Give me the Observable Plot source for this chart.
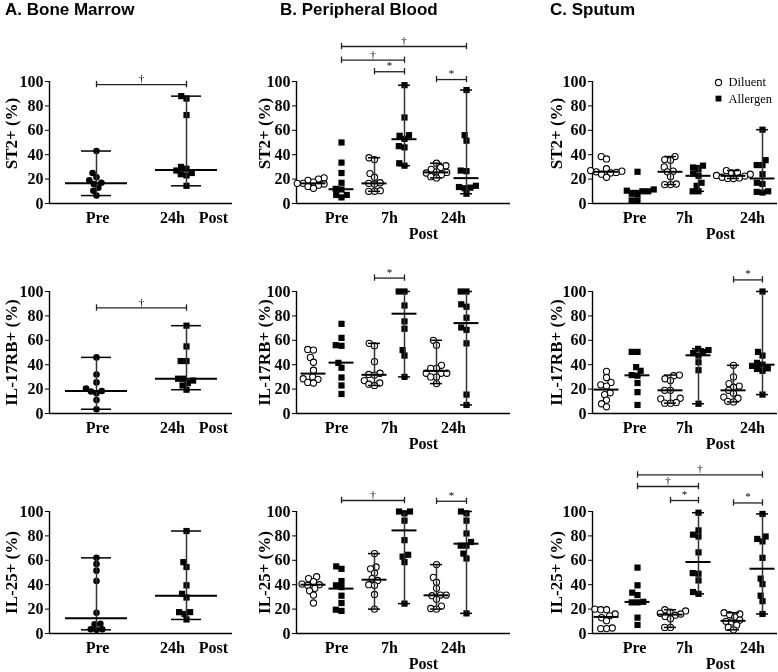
<!DOCTYPE html>
<html><head><meta charset="utf-8">
<script src="https://cdn.jsdelivr.net/npm/d3@7"></script>
<script src="https://cdn.jsdelivr.net/npm/@observablehq/plot@0.6"></script>
<style>
html,body{margin:0;padding:0;background:#fff;overflow:hidden;}
#root{position:relative;width:778px;height:672px;background:#fff;filter:grayscale(1);}
.title{position:absolute;top:0;font:bold 17px 'Liberation Sans',Arial,sans-serif;color:#000;white-space:nowrap;}
.panel{position:absolute;}
</style></head><body><div id="root"></div>
<script>
// ---------- text ----------
const panelTitles = ["A. Bone Marrow", "B. Peripheral Blood", "C. Sputum"];
const markerLabels = ["ST2+ (%)", "IL-17RB+ (%)", "IL-25+ (%)"];
const bmTimeLabels = ["Pre", "24h"];
const timeLabels = ["Pre", "7h", "24h"];
const postLabel = "Post";
const legendLabels = ["Diluent", "Allergen"];

// ---------- A. Bone marrow: groups [Pre, 24h Post] ----------
const bmST2 = [[43, 25, 21.5, 19, 17, 16, 13, 10.5, 6.5], [88, 86, 72.5, 30, 28.5, 27, 25, 24, 23, 14.5]];
const bmST2Median = [16.5, 27.5];
const bmST2Sig = [[0, 1, 97.5, "†"]];
const bmIL17RB = [[46, 32, 25.5, 20.5, 18.5, 18, 16.5, 11, 3.5], [72, 55, 43, 43, 28.5, 28.5, 27, 25, 23, 19.5]];
const bmIL17RBMedian = [18.5, 28.5];
const bmIL17RBSig = [[0, 1, 86.5, "†"]];
const bmIL25 = [[62, 57, 51.5, 43, 17, 8, 7.5, 3.5, 3, 3.5], [84, 58.5, 54.5, 39.5, 32.5, 29.5, 17.5, 17.5, 16, 11.5]];
const bmIL25Median = [12.5, 31];
const bmIL25Sig = [];

// ---------- B. Peripheral blood: groups [Pre Dil, Pre All, 7h Dil, 7h All, 24h Dil, 24h All] ----------
const pbST2 = [
  [21, 20, 19, 17.5, 16.5, 16.5, 16, 15, 14, 12.5],
  [50, 33.5, 25, 17, 12, 11.5, 7, 5, 7],
  [37.5, 36, 24.5, 21.5, 17, 16.5, 16, 10.5, 10, 10],
  [97, 70.5, 56, 55.5, 53, 47, 46, 33, 31],
  [33, 31, 29.5, 28, 26, 25.5, 25, 23.5, 22, 21],
  [93, 56, 51.5, 27, 26.5, 14.5, 13.5, 13, 12.5, 8]];
const pbST2Median = [16.5, 11.7, 16.5, 52.7, 25.5, 20.8];
const pbST2Sig = [[1, 5, 128.7, "†"], [1, 3, 117.5, "†"], [2, 3, 108, "*"], [4, 5, 101.6, "*"]];
const pbIL17RB = [
  [52.5, 52, 46, 42, 35.5, 30, 28.5, 28, 25.5, 25],
  [73.5, 62, 56, 55.5, 41.5, 37.5, 29.5, 23, 16],
  [57.5, 55.5, 42.5, 33, 32, 31.5, 27, 25, 24, 23],
  [100, 100, 88.5, 75.5, 69.5, 52, 47.5, 30],
  [60, 56, 39.5, 37, 37, 33, 33, 33, 30, 30, 24.5],
  [100, 100, 89.5, 87.5, 78.5, 70.5, 68.5, 57.5, 15.5, 7]];
const pbIL17RBMedian = [32.7, 41.7, 31.7, 81.8, 34.9, 74.1];
const pbIL17RBSig = [[2, 3, 111, "*"]];
const pbIL25 = [
  [46.5, 45, 42.5, 40.5, 40, 39.5, 37, 35, 31.5, 25],
  [55, 53, 43, 39.5, 38, 31, 25, 19.5, 18.5],
  [65.5, 54.5, 53, 49.5, 45, 43.5, 40, 39.5, 32, 20],
  [100, 100, 98.5, 92.5, 76.5, 64.5, 63, 58.5, 24.5],
  [56.5, 46, 42, 37, 31.5, 31.5, 31, 28, 22.5, 20.5, 20],
  [100, 98.5, 92.5, 82, 75, 72, 72, 65.5, 61.5, 16.5]];
const pbIL25Median = [40, 36.8, 44.1, 84.5, 31.3, 73.6];
const pbIL25Sig = [[1, 3, 109, "†"], [4, 5, 108.4, "*"]];

// ---------- C. Sputum ----------
const spST2 = [
  [38.5, 36.5, 28.5, 27, 26.5, 26, 25.5, 25, 24, 21.5],
  [26, 11.5, 10.5, 10, 10, 8, 7.5, 2.5, 2.5],
  [38.5, 36, 35.5, 30, 26.5, 26, 22, 16, 15.5, 15.5],
  [31, 29.5, 28, 24.5, 22.7, 17, 14.5, 10, 10],
  [27, 25.5, 25, 24, 23, 22.5, 21.5, 21, 20.5, 20.5],
  [60.5, 35.5, 31.5, 31.5, 24, 17, 16, 10, 9.5, 9]];
const spST2Median = [26, 10.4, 26, 22.7, 22.7, 20.5];
const spST2Sig = [];
const spIL17RB = [
  [34.5, 29.5, 25.5, 23.5, 22.5, 17, 15.5, 11, 8, 5.5],
  [50.5, 50.5, 38, 35, 31.5, 31, 25, 17.5, 7],
  [31.5, 31, 28.5, 27, 19, 19, 12.5, 12, 9, 8.5, 8.5],
  [53, 52, 50.5, 49.5, 47.5, 42, 35.5, 8],
  [39.5, 30, 24.5, 22.5, 21.5, 19, 16.5, 13.5, 12.5, 10, 9.5],
  [100, 50.5, 47.5, 41.5, 40, 39, 37, 36.5, 35, 15.5]];
const spIL17RBMedian = [19.6, 31.3, 19, 47.7, 19, 40];
const spIL17RBSig = [[4, 5, 109.5, "*"]];
const spIL25 = [
  [20, 19.5, 19.5, 16, 14.5, 13, 10.5, 4.5, 4, 4],
  [54, 39.5, 33.5, 31.5, 26, 25.5, 25.5, 13, 7],
  [19.5, 18.5, 17.5, 16.5, 16, 15, 14, 12, 5, 5],
  [99, 84.5, 81, 79.5, 66.5, 49.5, 49, 43.5, 34, 32.5],
  [17, 16, 15.5, 13.5, 11, 10, 9.5, 7, 5, 3],
  [98, 79.5, 77.5, 75.5, 62, 45, 40.5, 31, 26.5, 16]];
const spIL25Median = [13.6, 25.9, 15.5, 58.6, 10.4, 53.1];
const spIL25Sig = [[1, 5, 130, "†"], [1, 3, 120.5, "†"], [2, 3, 109, "*"], [4, 5, 107, "*"]];

// ---------- layout ----------
const serif = "'Liberation Serif','Times New Roman',Times,serif";
const FRAME_H = 122, PX_PER = FRAME_H / 100;
const rowFrameTop = [81, 291, 511];
const MT = 56, MB = 38;
const cols = [
  {svgLeft: 0, svgW: 240, ml: 49, fw: 183, pos: [47, 137], ylDx: -38, labels: bmTimeLabels, labelX: [48, 123], postX: 164, postDy: 14,
   medW: 31, capW: 15, kinds: ["fc", "sq"], ranged: [true, true]},
  {svgLeft: 248, svgW: 264, ml: 48, fw: 214, pos: [17, 45, 78, 108, 140, 170], ylDx: -32, labels: timeLabels, labelX: [40, 93, 157], postX: 127, postDy: 30,
   medW: 12.5, capW: 6, kinds: ["oc", "sq", "oc", "sq", "oc", "sq"], ranged: [false, false, true, true, true, true]},
  {svgLeft: 540, svgW: 238, ml: 52, fw: 185, pos: [14, 45, 78, 106, 141, 170], ylDx: -36, labels: timeLabels, labelX: [42, 92, 160], postX: 128, postDy: 30,
   medW: 12.5, capW: 6, kinds: ["oc", "sq", "oc", "sq", "oc", "sq"], ranged: [false, false, true, true, true, true]}
];
const panels = [
  [{vals: bmST2, med: bmST2Median, sig: bmST2Sig}, {vals: pbST2, med: pbST2Median, sig: pbST2Sig}, {vals: spST2, med: spST2Median, sig: spST2Sig, legend: true}],
  [{vals: bmIL17RB, med: bmIL17RBMedian, sig: bmIL17RBSig}, {vals: pbIL17RB, med: pbIL17RBMedian, sig: pbIL17RBSig}, {vals: spIL17RB, med: spIL17RBMedian, sig: spIL17RBSig}],
  [{vals: bmIL25, med: bmIL25Median, sig: bmIL25Sig}, {vals: pbIL25, med: pbIL25Median, sig: pbIL25Sig}, {vals: spIL25, med: spIL25Median, sig: spIL25Sig}]
];

// beeswarm offsets (px) so that points do not overlap much, computed from the values
function swarm(vals, d) {
  const pts = vals.map((v, i) => ({y: v * PX_PER, i, x: 0}));
  const placed = [], out = new Array(vals.length);
  for (const p of pts.slice().sort((a, b) => a.y - b.y)) {
    const cands = [0];
    for (const q of placed) {
      const dy = Math.abs(q.y - p.y);
      if (dy < d) { const dx = Math.sqrt(d * d - dy * dy); cands.push(q.x + dx, q.x - dx); }
    }
    cands.sort((a, b) => Math.abs(a) - Math.abs(b) || a - b);
    for (const c of cands) {
      if (placed.every(q => (q.x - c) ** 2 + (q.y - p.y) ** 2 >= d * d - 1e-6)) { p.x = c; break; }
    }
    placed.push(p); out[p.i] = p.x;
  }
  return out;
}

const root = document.getElementById("root");
panelTitles.forEach((t, i) => {
  const div = document.createElement("div");
  div.className = "title"; div.textContent = t;
  div.style.left = [5, 280, 550][i] + "px";
  root.appendChild(div);
});

panels.forEach((row, ri) => {
  row.forEach((cfg, ci) => {
    const col = cols[ci];
    const pts = [];
    cfg.vals.forEach((arr, g) => {
      const off = swarm(arr, 5.8);
      arr.forEach((v, j) => pts.push({g, v, x: col.pos[g] + off[j], kind: col.kinds[g]}));
    });
    const medRows = cfg.med.map((m, g) => ({m, x1: col.pos[g] - col.medW, x2: col.pos[g] + col.medW}));
    const rangeRows = cfg.vals.map((arr, g) => ({g, x: col.pos[g], lo: d3.min(arr), hi: d3.max(arr)})).filter(r => col.ranged[r.g]);
    const capRows = rangeRows.flatMap(r => [r.lo, r.hi].map(v => ({v, x1: r.x - col.capW, x2: r.x + col.capW})));
    const sigRows = cfg.sig.map(([a, b, lv, s]) => ({xa: col.pos[a], xb: col.pos[b], xm: (col.pos[a] + col.pos[b]) / 2, lv, s}));
    const sigEnds = sigRows.flatMap(r => [r.xa, r.xb].map(x => ({x, y1: r.lv - 2.6, y2: r.lv + 2.6})));
    const marks = [
      Plot.ruleY([0], {x1: () => 0, x2: () => col.fw, strokeWidth: 1.4}),
      Plot.ruleX([0], {y1: () => 0, y2: () => 100, strokeWidth: 1.4}),
      Plot.dot(pts.filter(p => p.kind === "oc"), {x: "x", y: "v", r: 3.1, fill: "white", stroke: "black", strokeWidth: 1.1}),
      Plot.dot(pts.filter(p => p.kind === "fc"), {x: "x", y: "v", r: 3.3, fill: "black"}),
      Plot.dot(pts.filter(p => p.kind === "sq"), {x: "x", y: "v", r: 3.5, symbol: "square", fill: "black"}),
      Plot.ruleX(rangeRows, {x: "x", y1: "lo", y2: "hi", stroke: "#333", strokeWidth: 1.5}),
      Plot.ruleY(capRows, {y: "v", x1: "x1", x2: "x2", strokeWidth: 1.5}),
      Plot.ruleY(medRows, {y: "m", x1: "x1", x2: "x2", strokeWidth: 2}),
      Plot.ruleY(sigRows, {y: "lv", x1: "xa", x2: "xb", stroke: "#222", strokeWidth: 1.3}),
      Plot.ruleX(sigEnds, {x: "x", y1: "y1", y2: "y2", stroke: "#222", strokeWidth: 1.3}),
      Plot.text(sigRows, {x: "xm", y: "lv", text: "s", dy: -6, fontSize: 11, fontWeight: "normal", fill: "black"}),
      Plot.text([markerLabels[ri]], {text: d => d, frameAnchor: "left", textAnchor: "middle", lineAnchor: "middle", dx: col.ylDx, dy: ri === 0 ? -9 : 0, rotate: -90, fontSize: 17, fontWeight: "bold", fill: "black"}),
      Plot.text(col.labels.map((t, i) => ({t, x: col.labelX[i]})), {x: "x", text: "t", frameAnchor: "bottom", lineAnchor: "middle", dy: 14, fontSize: 16, fontWeight: "bold", fill: "black"}),
      Plot.text([postLabel], {x: () => col.postX, text: d => d, frameAnchor: "bottom", lineAnchor: "middle", dy: col.postDy, fontSize: 16, fontWeight: "bold", fill: "black"})
    ];
    if (cfg.legend) {
      marks.push(
        Plot.dot([99.2], {x: () => 126, y: d => d, r: 3.1, fill: "white", stroke: "black", strokeWidth: 1.1}),
        Plot.dot([86], {x: () => 126, y: d => d, r: 3.3, symbol: "square", fill: "black"}),
        Plot.text(legendLabels.map((t, i) => ({t, y: [99.2, 86][i]})), {x: () => 136, y: "y", text: "t", textAnchor: "start", fontSize: 12.5, fontWeight: "normal", fill: "black"})
      );
    }
    const svg = Plot.plot({
      width: col.svgW, height: MT + FRAME_H + MB,
      marginTop: MT, marginBottom: MB, marginLeft: col.ml, marginRight: col.svgW - col.ml - col.fw,
      x: {domain: [0, col.fw], axis: null},
      y: {domain: [0, 100], ticks: 5, tickSize: 4, tickPadding: 2, label: null},
      style: {fontFamily: serif, fontSize: "16px", fontWeight: "bold", color: "black", background: "transparent", overflow: "visible"},
      marks
    });
    const wrap = document.createElement("div");
    wrap.className = "panel";
    wrap.style.left = col.svgLeft + "px";
    wrap.style.top = (rowFrameTop[ri] - MT) + "px";
    wrap.appendChild(svg);
    root.appendChild(wrap);
  });
});
</script></body></html>
